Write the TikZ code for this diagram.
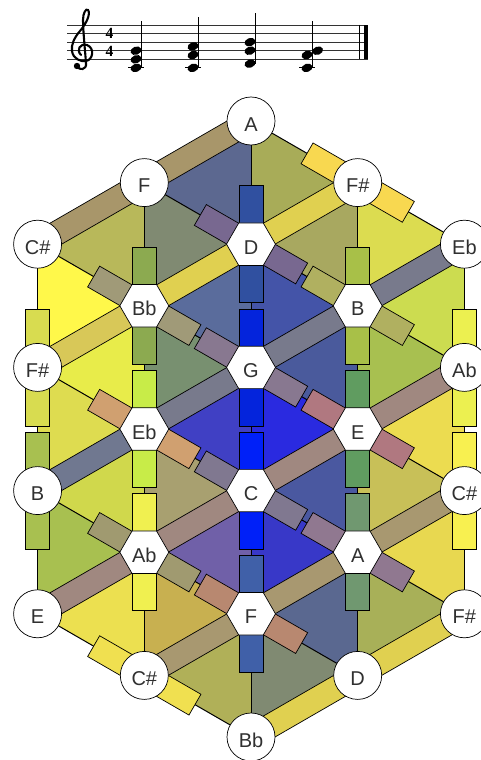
\documentclass[tikz,border=0pt]{standalone}
\usepackage{fontspec}
\setmainfont{Liberation Sans}
\newfontfamily\tsfont{Liberation Serif}
\usetikzlibrary{shapes.geometric}
\definecolor{labc}{HTML}{303030}
\newcommand\tri[4]{\definecolor{tmpc}{HTML}{#4}\fill[tmpc] (#1)--(#2)--(#3)--cycle;}
\newcommand\hb[3]{\definecolor{tmpc}{HTML}{#3}\path (#1) -- node[hbar,fill=tmpc,pos=0.3145] (h#1#2) {} (#2);}
\newcommand\hbb[4]{\hb{#1}{#2}{#4}\hb{#1}{#3}{#4}}
\newcommand\fb[3]{\definecolor{tmpc}{HTML}{#3}\path (#1) -- node[fbar,fill=tmpc,pos=0.5] (f#1#2) {} (#2);}
\newcommand\cn[2]{\node[circn] (n#1) at (#1) {#2};}
\newcommand\hn[2]{\node[hexn] (n#1) at (#1) {#2};}
\newcommand\nh[2]{\fill[rotate around={20:(#1,#2)}] (#1,#2) ellipse (5.6 and 4.1);}
\begin{document}
\begin{tikzpicture}[x=1pt,y=-1pt,
  edge/.style={draw=black,line width=1pt},
  barbase/.style={draw=black,line width=0.7pt,sloped,inner sep=0pt,minimum height=24pt,anchor=center},
  hbar/.style={barbase,minimum width=39.5pt},
  fbar/.style={barbase,minimum width=85pt},
  lbl/.style={font=\fontsize{20}{20}\selectfont,text=labc,text height=20.3pt,text depth=0pt,inner sep=0pt},
  circn/.style={circle,draw=black,fill=white,line width=0.7pt,minimum size=48pt,lbl},
  hexn/.style={regular polygon,regular polygon sides=6,draw=black,fill=white,line width=0.7pt,minimum size=49pt,lbl},
  tsig/.style={anchor=base,inner sep=0pt,font=\tsfont\bfseries\fontsize{15.5}{15.5}\selectfont},
  staffl/.style={draw=black!80,line width=0.8pt}]
\useasboundingbox (0,0) rectangle (481,760);
% ---------- staff ----------
\foreach \i in {0,...,4} \draw[staffl] (67,{25+8.57*\i}) -- (368,{25+8.57*\i});
\draw[line width=1pt] (359.8,25) -- (359.8,59.28);
\fill (363.5,25) rectangle (368,59.28);
% treble clef
\draw[line width=2.1pt,line cap=round]
  (77,66) .. controls (79,71) and (87,70) .. (86,63)
  .. controls (85,50) and (83,30) .. (83,20)
  .. controls (83,13) and (86,8) .. (88,10)
  .. controls (91,14) and (86,24) .. (80,31)
  .. controls (74,38) and (71,45) .. (72,51)
  .. controls (73,59) and (81,62) .. (86,61)
  .. controls (93,60) and (95,48) .. (87,45)
  .. controls (80,43) and (76,50) .. (81,55);
\fill (77,66) circle (3.2);
% time signature
\node[tsig] (ts1) at (109.5,38.3) {4};
\node[tsig] (ts2) at (109.5,56.6) {4};
% chords
\draw[line width=1pt] (128,67.85) -- (144,67.85);
\nh{136}{67.85}\nh{136}{59.28}\nh{136}{50.71}
\draw[line width=1pt] (141.3,67.85) -- (141.3,21);
\draw[line width=1pt] (185,67.85) -- (201,67.85);
\nh{193}{67.85}\nh{193}{55.0}\nh{193}{46.4}
\draw[line width=1pt] (198.3,67.85) -- (198.3,17);
\nh{250}{63.6}\nh{250}{50.71}\nh{250}{42.14}
\draw[line width=1pt] (255.3,63.6) -- (255.3,13.5);
\draw[line width=1pt] (299,67.85) -- (315,67.85);
\nh{307}{67.85}\nh{307}{55.0}\nh{317.6}{50.71}
\draw[line width=1pt] (312.3,67.85) -- (312.3,21);
% ---------- lattice points ----------
\coordinate (A0) at (251,121);
\coordinate (F1) at (144.3,182.6);
\coordinate (Fs1) at (357.7,182.6);
\coordinate (Cs2) at (37.6,244.2);
\coordinate (D2) at (251,244.2);
\coordinate (Eb2) at (464.4,244.2);
\coordinate (Bb3) at (144.3,305.8);
\coordinate (B3) at (357.7,305.8);
\coordinate (Fs4) at (37.6,367.4);
\coordinate (G4) at (251,367.4);
\coordinate (Ab4) at (464.4,367.4);
\coordinate (Eb5) at (144.3,429);
\coordinate (E5) at (357.7,429);
\coordinate (B6) at (37.6,490.6);
\coordinate (C6) at (251,490.6);
\coordinate (Cs6) at (464.4,490.6);
\coordinate (Ab7) at (144.3,552.2);
\coordinate (A7) at (357.7,552.2);
\coordinate (E8) at (37.6,613.8);
\coordinate (F8) at (251,613.8);
\coordinate (Fs8) at (464.4,613.8);
\coordinate (Cs9) at (144.3,675.4);
\coordinate (D9) at (357.7,675.4);
\coordinate (Bb10) at (251,737);
% ---------- triangles ----------
\tri{F1}{Cs2}{Bb3}{B8B85A}
\tri{Cs2}{Fs4}{Bb3}{FFF84A}
\tri{Bb3}{Eb5}{Fs4}{E8EC4A}
\tri{Fs4}{B6}{Eb5}{DEDC50}
\tri{Eb5}{Ab7}{B6}{D0D84C}
\tri{B6}{E8}{Ab7}{A8C050}
\tri{Ab7}{Cs9}{E8}{ECE050}
\tri{A0}{D2}{F1}{5C6890}
\tri{F1}{Bb3}{D2}{808A72}
\tri{D2}{G4}{Bb3}{5A6C9C}
\tri{Bb3}{Eb5}{G4}{789070}
\tri{G4}{C6}{Eb5}{4040C4}
\tri{Eb5}{Ab7}{C6}{A8A070}
\tri{C6}{F8}{Ab7}{7060A8}
\tri{Ab7}{Cs9}{F8}{C8B050}
\tri{F8}{Bb10}{Cs9}{B0B058}
\tri{A0}{D2}{Fs1}{A8AC58}
\tri{Fs1}{B3}{D2}{A8A860}
\tri{D2}{G4}{B3}{4454A8}
\tri{B3}{E5}{G4}{4A5A9C}
\tri{G4}{C6}{E5}{2A2AE0}
\tri{E5}{A7}{C6}{4A58A0}
\tri{C6}{F8}{A7}{3838C8}
\tri{A7}{D9}{F8}{5A6890}
\tri{F8}{Bb10}{D9}{808A72}
\tri{Fs1}{B3}{Eb2}{DCDC50}
\tri{Eb2}{Ab4}{B3}{CCDC50}
\tri{B3}{E5}{Ab4}{A8C050}
\tri{Ab4}{Cs6}{E5}{ECDC50}
\tri{E5}{A7}{Cs6}{C8C058}
\tri{Cs6}{Fs8}{A7}{E8D850}
\tri{A7}{D9}{Fs8}{A8B058}
% ---------- edges ----------
\foreach \a/\b in {A0/D2,D2/G4,G4/C6,C6/F8,F8/Bb10,F1/Bb3,Bb3/Eb5,Eb5/Ab7,Ab7/Cs9,
  Fs1/B3,B3/E5,E5/A7,A7/D9,Cs2/Fs4,Fs4/B6,B6/E8,Eb2/Ab4,Ab4/Cs6,Cs6/Fs8,
  F1/A0,Cs2/F1,D2/Fs1,Bb3/D2,B3/Eb2,Fs4/Bb3,G4/B3,Eb5/G4,E5/Ab4,B6/Eb5,C6/E5,Ab7/C6,
  A7/Cs6,E8/Ab7,F8/A7,Cs9/F8,D9/Fs8,Bb10/D9,
  A0/Fs1,Fs1/Eb2,F1/D2,D2/B3,B3/Ab4,Cs2/Bb3,Bb3/G4,G4/E5,E5/Cs6,Fs4/Eb5,Eb5/C6,C6/A7,
  A7/Fs8,B6/Ab7,Ab7/F8,F8/D9,E8/Cs9,Cs9/Bb10}
  \draw[edge] (\a) -- (\b);
% ---------- vertical half bars ----------
\hbb{D2}{A0}{G4}{3050A0}
\hbb{G4}{D2}{C6}{0424DC}
\hbb{C6}{G4}{F8}{0020F8}
\hbb{F8}{C6}{Bb10}{4060A8}
\hbb{Bb3}{F1}{Eb5}{8CAA50}
\hbb{Eb5}{Bb3}{Ab7}{C8EC48}
\hbb{Ab7}{Eb5}{Cs9}{F0F050}
\hbb{B3}{Fs1}{E5}{A8C048}
\hbb{E5}{B3}{A7}{609C60}
\hbb{A7}{E5}{D9}{709870}
\hbb{Fs4}{Cs2}{B6}{D8DC50}
\hbb{B6}{Fs4}{E8}{A8C050}
\hbb{Ab4}{Eb2}{Cs6}{ECF050}
\hbb{Cs6}{Ab4}{Fs8}{F8F050}
% ---------- diagonal half bars ----------
\hbb{Fs1}{A0}{Eb2}{F8D850}
\hbb{D2}{F1}{B3}{786890}
\hbb{B3}{D2}{Ab4}{B0B060}
\hbb{Bb3}{Cs2}{G4}{A09A78}
\hbb{G4}{Bb3}{E5}{887890}
\hbb{E5}{G4}{Cs6}{B07880}
\hbb{Eb5}{Fs4}{C6}{D0A070}
\hbb{C6}{Eb5}{A7}{807890}
\hbb{A7}{C6}{Fs8}{907890}
\hbb{Ab7}{B6}{F8}{A09A70}
\hbb{F8}{Ab7}{D9}{B88870}
\hbb{Cs9}{E8}{Bb10}{F0E050}
% ---------- full bars ----------
\fb{F1}{A0}{A8966A}
\fb{Cs2}{F1}{A8966A}
\fb{D2}{Fs1}{E0D050}
\fb{Bb3}{D2}{E0D050}
\fb{B3}{Eb2}{787A8C}
\fb{Fs4}{Bb3}{D8C858}
\fb{G4}{B3}{787A8C}
\fb{Eb5}{G4}{787A8C}
\fb{E5}{Ab4}{A08880}
\fb{B6}{Eb5}{707890}
\fb{C6}{E5}{A08880}
\fb{Ab7}{C6}{A08880}
\fb{A7}{Cs6}{A89870}
\fb{E8}{Ab7}{A08880}
\fb{F8}{A7}{A89870}
\fb{Cs9}{F8}{A89870}
\fb{D9}{Fs8}{E0D050}
\fb{Bb10}{D9}{E0D050}
% ---------- note nodes ----------
\cn{A0}{A}
\cn{F1}{F}
\cn{Fs1}{F\#}
\cn{Cs2}{C\#}
\hn{D2}{D}
\cn{Eb2}{Eb}
\hn{Bb3}{Bb}
\hn{B3}{B}
\cn{Fs4}{F\#}
\hn{G4}{G}
\cn{Ab4}{Ab}
\hn{Eb5}{Eb}
\hn{E5}{E}
\cn{B6}{B}
\hn{C6}{C}
\cn{Cs6}{C\#}
\hn{Ab7}{Ab}
\hn{A7}{A}
\cn{E8}{E}
\hn{F8}{F}
\cn{Fs8}{F\#}
\cn{Cs9}{C\#}
\cn{D9}{D}
\cn{Bb10}{Bb}
\end{tikzpicture}
\end{document}
